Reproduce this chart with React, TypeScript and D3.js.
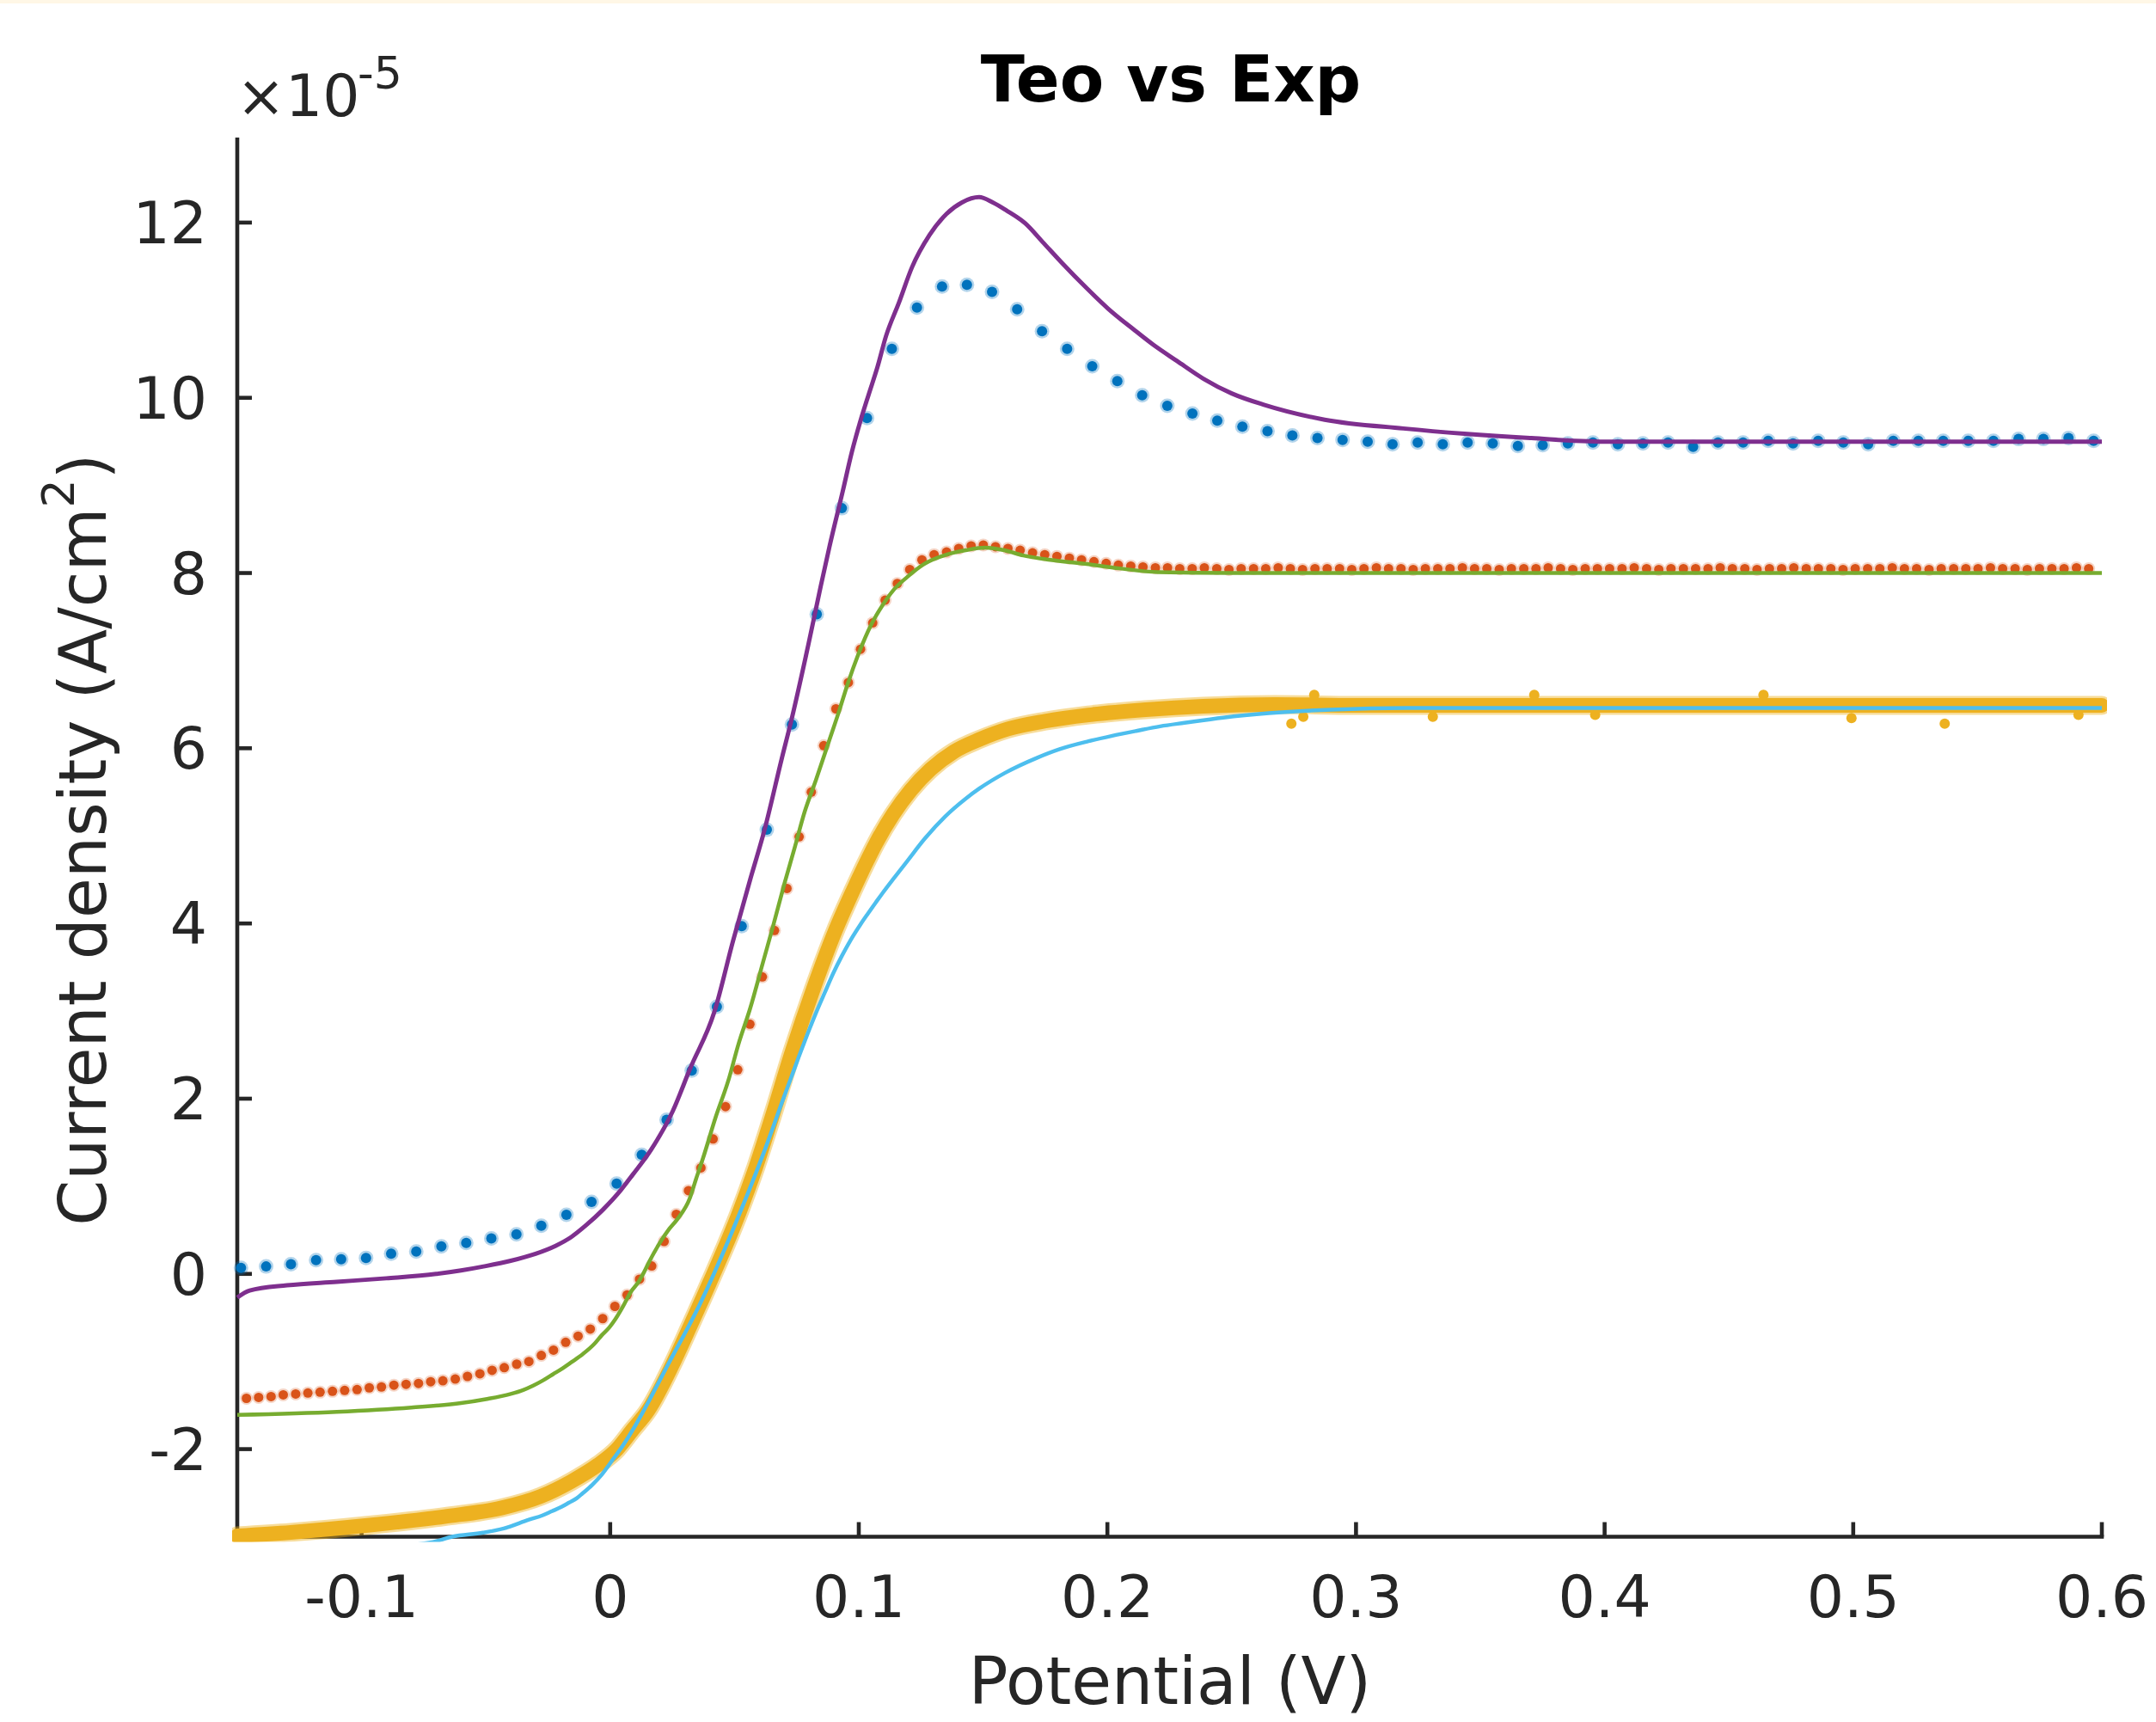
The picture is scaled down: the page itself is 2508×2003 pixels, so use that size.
import React from "react";
import * as d3 from "d3";

const W = 2508;
const H = 2003;
const PLOT = { left: 276, right: 2445, top: 157, bottom: 1787.5, axisTop: 160 };

const X_DOMAIN = [-0.15, 0.6];
const Y_DOMAIN = [-3, 13];
const X_TICKS = [-0.1, 0, 0.1, 0.2, 0.3, 0.4, 0.5, 0.6];
const X_TICK_LABELS = ["-0.1", "0", "0.1", "0.2", "0.3", "0.4", "0.5", "0.6"];
const Y_TICKS = [-2, 0, 2, 4, 6, 8, 10, 12];
const Y_TICK_LABELS = ["-2", "0", "2", "4", "6", "8", "10", "12"];

const TITLE = "Teo vs Exp";
const X_LABEL = "Potential (V)";

// Experimental 1 (blue dots), current density in 1e-5 A/cm2
const BLUE_X = [-0.1485,-0.1384,-0.1284,-0.1183,-0.1082,-0.0982,-0.0881,-0.078,-0.0679,-0.0579,-0.0478,-0.0377,-0.0277,-0.0176,-0.0075,0.0026,0.0127,0.0227,0.0328,0.0429,0.0529,0.063,0.0731,0.0831,0.0932,0.1033,0.1133,0.1234,0.1335,0.1435,0.1536,0.1637,0.1737,0.1838,0.1939,0.204,0.214,0.2241,0.2342,0.2442,0.2543,0.2644,0.2744,0.2845,0.2946,0.3047,0.3147,0.3248,0.3349,0.3449,0.355,0.3651,0.3751,0.3852,0.3953,0.4053,0.4154,0.4255,0.4356,0.4456,0.4557,0.4658,0.4758,0.4859,0.496,0.506,0.5161,0.5262,0.5362,0.5463,0.5564,0.5665,0.5765,0.5866,0.5967];
const BLUE_Y = [0.07,0.085,0.11,0.157,0.167,0.183,0.232,0.255,0.314,0.353,0.405,0.452,0.55,0.675,0.822,1.03,1.36,1.76,2.32,3.05,3.97,5.07,6.27,7.53,8.74,9.77,10.56,11.03,11.27,11.29,11.21,11.01,10.76,10.56,10.36,10.19,10.03,9.91,9.82,9.74,9.67,9.62,9.57,9.54,9.52,9.5,9.47,9.49,9.47,9.49,9.48,9.45,9.46,9.48,9.49,9.47,9.48,9.49,9.44,9.49,9.49,9.51,9.48,9.51,9.49,9.47,9.51,9.51,9.51,9.51,9.51,9.53,9.53,9.54,9.51];

// Theory 1 (purple line)
const PURPLE_X = [-0.15,-0.145,-0.13,-0.11,-0.09,-0.07,-0.06,-0.05,-0.04,-0.03,-0.022,-0.0157,-0.0095,-0.003,0.0044,0.009,0.0165,0.0252,0.0321,0.0419,0.0494,0.0563,0.0621,0.069,0.0728,0.0797,0.0847,0.0882,0.0936,0.0972,0.1006,0.104,0.1075,0.1109,0.1162,0.1214,0.1285,0.1353,0.1415,0.1484,0.1539,0.1593,0.167,0.1739,0.1817,0.1917,0.2002,0.211,0.2187,0.228,0.2385,0.25,0.263,0.2874,0.319,0.3436,0.3705,0.4,0.6];
const PURPLE_Y = [-0.27,-0.19,-0.13,-0.09,-0.05,0.0,0.04,0.09,0.15,0.23,0.32,0.42,0.56,0.73,0.96,1.13,1.42,1.86,2.34,2.99,3.8,4.5,5.07,5.88,6.31,7.18,7.85,8.3,8.94,9.38,9.73,10.04,10.35,10.7,11.09,11.49,11.86,12.1,12.23,12.29,12.23,12.14,11.99,11.78,11.54,11.25,11.02,10.77,10.6,10.42,10.22,10.05,9.92,9.75,9.65,9.59,9.54,9.5,9.5];

// Experimental 2 (orange dots)
const ORANGE_X = [-0.1463,-0.1414,-0.1364,-0.1315,-0.1265,-0.1216,-0.1167,-0.1117,-0.1068,-0.1018,-0.0969,-0.092,-0.087,-0.0821,-0.0771,-0.0722,-0.0673,-0.0623,-0.0574,-0.0524,-0.0475,-0.0426,-0.0376,-0.0327,-0.0277,-0.0228,-0.0179,-0.0129,-0.008,-0.003,0.0019,0.0068,0.0118,0.0167,0.0217,0.0266,0.0315,0.0365,0.0414,0.0464,0.0513,0.0562,0.0612,0.0661,0.0711,0.076,0.0809,0.0859,0.0908,0.0958,0.1007,0.1056,0.1106,0.1155,0.1205,0.1254,0.1303,0.1353,0.1402,0.1452,0.1501,0.155,0.16,0.1649,0.1699,0.1748,0.1797,0.1847,0.1896,0.1946,0.1995,0.2044,0.2094,0.2143,0.2193,0.2242,0.2291,0.2341,0.239,0.244,0.2489,0.2538,0.2588,0.2637,0.2687,0.2736,0.2785,0.2835,0.2884,0.2934,0.2983,0.3032,0.3082,0.3131,0.3181,0.323,0.3279,0.3329,0.3378,0.3428,0.3477,0.3526,0.3576,0.3625,0.3675,0.3724,0.3773,0.3823,0.3872,0.3922,0.3971,0.402,0.407,0.4119,0.4169,0.4218,0.4267,0.4317,0.4366,0.4416,0.4465,0.4514,0.4564,0.4613,0.4663,0.4712,0.4761,0.4811,0.486,0.491,0.4959,0.5008,0.5058,0.5107,0.5157,0.5206,0.5255,0.5305,0.5354,0.5404,0.5453,0.5502,0.5552,0.5601,0.5651,0.57,0.5749,0.5799,0.5848,0.5898,0.5947];
const ORANGE_Y = [-1.42,-1.41,-1.4,-1.38,-1.37,-1.36,-1.35,-1.34,-1.33,-1.32,-1.3,-1.29,-1.27,-1.26,-1.25,-1.23,-1.22,-1.2,-1.17,-1.14,-1.1,-1.07,-1.03,-1.0,-0.93,-0.87,-0.78,-0.71,-0.63,-0.51,-0.37,-0.24,-0.06,0.09,0.37,0.68,0.95,1.21,1.54,1.91,2.33,2.85,3.39,3.92,4.4,4.99,5.5,6.03,6.45,6.75,7.13,7.43,7.69,7.88,8.04,8.15,8.21,8.24,8.28,8.31,8.32,8.3,8.28,8.26,8.23,8.21,8.19,8.17,8.15,8.13,8.11,8.09,8.08,8.07,8.06,8.06,8.05,8.05,8.06,8.05,8.04,8.05,8.05,8.05,8.06,8.05,8.04,8.05,8.05,8.05,8.04,8.05,8.06,8.05,8.05,8.04,8.05,8.05,8.05,8.06,8.05,8.05,8.04,8.05,8.05,8.05,8.06,8.05,8.04,8.05,8.05,8.05,8.05,8.06,8.05,8.04,8.05,8.05,8.05,8.05,8.06,8.05,8.05,8.04,8.05,8.05,8.06,8.05,8.05,8.05,8.04,8.05,8.05,8.05,8.06,8.05,8.05,8.04,8.05,8.05,8.05,8.05,8.06,8.05,8.05,8.04,8.05,8.05,8.05,8.06,8.05];

// Theory 2 (green line)
const GREEN_X = [-0.15,-0.11,-0.08,-0.06,-0.05,-0.04,-0.035,-0.031,-0.027,-0.023,-0.019,-0.0157,-0.011,-0.0064,-0.0034,-0.0003,0.002,0.0051,0.0082,0.0113,0.0136,0.0159,0.0198,0.0237,0.0269,0.0321,0.0345,0.0373,0.0424,0.0476,0.0516,0.0563,0.0615,0.0655,0.0701,0.0742,0.0782,0.0828,0.088,0.0918,0.0956,0.1002,0.1048,0.1095,0.1141,0.1195,0.1261,0.1353,0.143,0.1508,0.1585,0.1662,0.177,0.1909,0.2048,0.2203,0.25,0.6];
const GREEN_Y = [-1.61,-1.575,-1.525,-1.475,-1.43,-1.37,-1.325,-1.275,-1.215,-1.145,-1.075,-1.01,-0.915,-0.8,-0.7,-0.61,-0.52,-0.374,-0.21,-0.096,0.019,0.15,0.347,0.511,0.62,0.869,1.08,1.317,1.786,2.214,2.622,3.03,3.56,3.967,4.456,4.864,5.272,5.64,6.08,6.4,6.74,7.1,7.4,7.63,7.81,7.955,8.1,8.21,8.26,8.29,8.26,8.2,8.15,8.105,8.053,8.01,8.0,8.0];

// Experimental 3 (yellow dense markers)
const YELLOW_X = [-0.15,-0.1285,-0.0976,-0.0667,-0.0435,-0.028,-0.0157,-0.0049,0.0028,0.009,0.0152,0.0248,0.0321,0.04,0.0519,0.0586,0.0652,0.0731,0.0817,0.0906,0.0976,0.1024,0.107,0.1139,0.1209,0.1289,0.1382,0.1485,0.16,0.175,0.1924,0.2154,0.2385,0.2673,0.3,0.6];
const YELLOW_Y = [-2.99,-2.95,-2.87,-2.77,-2.67,-2.54,-2.37,-2.18,-2.0,-1.78,-1.56,-1.05,-0.6,-0.1,0.7,1.22,1.8,2.53,3.25,3.92,4.37,4.66,4.92,5.25,5.52,5.76,5.96,6.1,6.22,6.31,6.38,6.44,6.48,6.5,6.49,6.49];
const YELLOW_OUT_X = [0.274,0.2788,0.2832,0.3309,0.3717,0.3962,0.4639,0.4993,0.5368,0.5906];
const YELLOW_OUT_Y = [6.28,6.36,6.61,6.36,6.61,6.38,6.61,6.345,6.28,6.38];

// Theory 3 (light blue line)
const CYAN_X = [-0.15,-0.11,-0.0713,-0.0636,-0.0512,-0.0428,-0.0327,-0.0273,-0.0234,-0.0196,-0.0165,-0.0134,-0.0111,-0.0072,-0.0034,0.0013,0.0051,0.0093,0.0129,0.0167,0.0228,0.036,0.0493,0.0551,0.0586,0.062,0.0655,0.069,0.0724,0.0759,0.0794,0.0828,0.0863,0.0897,0.0932,0.0967,0.1007,0.1036,0.1076,0.1094,0.1145,0.1197,0.1266,0.1347,0.1428,0.1485,0.1589,0.1716,0.1808,0.1924,0.2016,0.212,0.2212,0.231,0.2466,0.265,0.29,0.32,0.6];
const CYAN_Y = [-3.25,-3.16,-3.06,-3.0,-2.954,-2.905,-2.806,-2.757,-2.708,-2.659,-2.61,-2.56,-2.505,-2.407,-2.292,-2.11,-1.96,-1.77,-1.59,-1.39,-1.06,-0.35,0.5,0.9,1.15,1.4,1.67,1.95,2.21,2.48,2.74,2.98,3.21,3.43,3.63,3.81,3.99,4.11,4.27,4.34,4.53,4.72,4.97,5.22,5.42,5.54,5.72,5.89,5.99,6.08,6.14,6.2,6.25,6.29,6.35,6.4,6.44,6.46,6.46];

const C_BLUE = "#0072BD";
const C_ORANGE = "#D95319";
const C_YELLOW = "#EDB120";
const C_PURPLE = "#7E2F8E";
const C_GREEN = "#77AC30";
const C_CYAN = "#4DBEEE";
const C_AXIS = "#262626";
const FONT = "'DejaVu Sans', sans-serif";

export default function App() {
  const x = d3.scaleLinear().domain(X_DOMAIN).range([PLOT.left, PLOT.right]);
  const y = d3.scaleLinear().domain(Y_DOMAIN).range([PLOT.bottom, PLOT.top]);

  const path = (xs: number[], ys: number[]) =>
    d3
      .line<number>()
      .x((_, i) => x(xs[i]))
      .y((d) => y(d))
      .curve(d3.curveMonotoneX)(ys) || "";

  const tickLen = 17;
  const axisW = 4.6;

  return (
    <svg
      width={W}
      height={H}
      viewBox={`0 0 ${W} ${H}`}
      style={{ position: "absolute", left: 0, top: 0, display: "block", background: "#fff" }}
    >
      <rect x={0} y={0} width={W} height={H} fill="#ffffff" />
      <rect x={0} y={0} width={W} height={4} fill="#FFF7E6" />
      <defs>
        <clipPath id="plotClip">
          <rect x={PLOT.left - 6} y={PLOT.top - 6} width={PLOT.right - PLOT.left + 12} height={PLOT.bottom - PLOT.top + 12} />
        </clipPath>
      </defs>

      {/* axes */}
      <g stroke={C_AXIS} strokeWidth={axisW} fill="none">
        <line x1={PLOT.left} y1={PLOT.axisTop} x2={PLOT.left} y2={PLOT.bottom + axisW / 2} />
        <line x1={PLOT.left - axisW / 2} y1={PLOT.bottom} x2={PLOT.right + axisW / 2} y2={PLOT.bottom} />
        {X_TICKS.map((t) => (
          <line key={"xt" + t} x1={x(t)} x2={x(t)} y1={PLOT.bottom} y2={PLOT.bottom - tickLen} />
        ))}
        {Y_TICKS.map((t) => (
          <line key={"yt" + t} x1={PLOT.left} x2={PLOT.left + tickLen} y1={y(t)} y2={y(t)} />
        ))}
      </g>

      {/* tick labels */}
      <g fontFamily={FONT} fontSize={68} fill={C_AXIS}>
        {X_TICKS.map((t, i) => (
          <text key={"xl" + t} x={x(t)} y={1881} textAnchor="middle">
            {X_TICK_LABELS[i]}
          </text>
        ))}
        {Y_TICKS.map((t, i) => (
          <text key={"yl" + t} x={241} y={y(t) + 24} textAnchor="end">
            {Y_TICK_LABELS[i]}
          </text>
        ))}
      </g>

      {/* exponent */}
      <g fontFamily={FONT} fill={C_AXIS}>
        <text x={275} y={135} fontSize={68}>×10</text>
        <text x={416} y={103} fontSize={52}>-5</text>
      </g>

      {/* data */}
      <g clipPath="url(#plotClip)">
        {BLUE_Y.map((v, i) => (
          <circle key={"bh" + i} cx={x(BLUE_X[i])} cy={y(v)} r={8.5} fill={C_BLUE} opacity={0.3} />
        ))}
        {BLUE_Y.map((v, i) => (
          <circle key={"b" + i} cx={x(BLUE_X[i])} cy={y(v)} r={6} fill={C_BLUE} />
        ))}
        {ORANGE_Y.map((v, i) => (
          <circle key={"oh" + i} cx={x(ORANGE_X[i])} cy={y(v)} r={7.5} fill={C_ORANGE} opacity={0.25} />
        ))}
        {ORANGE_Y.map((v, i) => (
          <circle key={"o" + i} cx={x(ORANGE_X[i])} cy={y(v)} r={5.5} fill={C_ORANGE} />
        ))}
        <path d={path(YELLOW_X, YELLOW_Y)} fill="none" stroke={C_YELLOW} strokeOpacity={0.45} strokeWidth={22} strokeLinecap="round" strokeLinejoin="round" />
        <path d={path(YELLOW_X, YELLOW_Y)} fill="none" stroke={C_YELLOW} strokeWidth={17} strokeLinecap="round" strokeLinejoin="round" />
        {YELLOW_OUT_Y.map((v, i) => (
          <circle key={"y" + i} cx={x(YELLOW_OUT_X[i])} cy={y(v)} r={6} fill={C_YELLOW} />
        ))}
        <path d={path(PURPLE_X, PURPLE_Y)} fill="none" stroke={C_PURPLE} strokeWidth={5} strokeLinejoin="round" />
        <path d={path(GREEN_X, GREEN_Y)} fill="none" stroke={C_GREEN} strokeWidth={4.5} strokeLinejoin="round" />
        <path d={path(CYAN_X, CYAN_Y)} fill="none" stroke={C_CYAN} strokeWidth={4.5} strokeLinejoin="round" />
      </g>

      {/* labels */}
      <text x={1362} y={118} textAnchor="middle" fontFamily={FONT} fontWeight="bold" fontSize={75} fill="#000">
        {TITLE}
      </text>
      <text x={1361} y={1982} textAnchor="middle" fontFamily={FONT} fontSize={76} fill={C_AXIS}>
        {X_LABEL}
      </text>
      <text
        transform={`translate(123, ${(PLOT.axisTop + PLOT.bottom) / 2 + 3}) rotate(-90)`}
        textAnchor="middle"
        fontFamily={FONT}
        fontSize={76}
        fill={C_AXIS}
      >
        Current density (A/cm
        <tspan dy={-37} fontSize={52}>2</tspan>
        <tspan dy={37}>)</tspan>
      </text>
    </svg>
  );
}
